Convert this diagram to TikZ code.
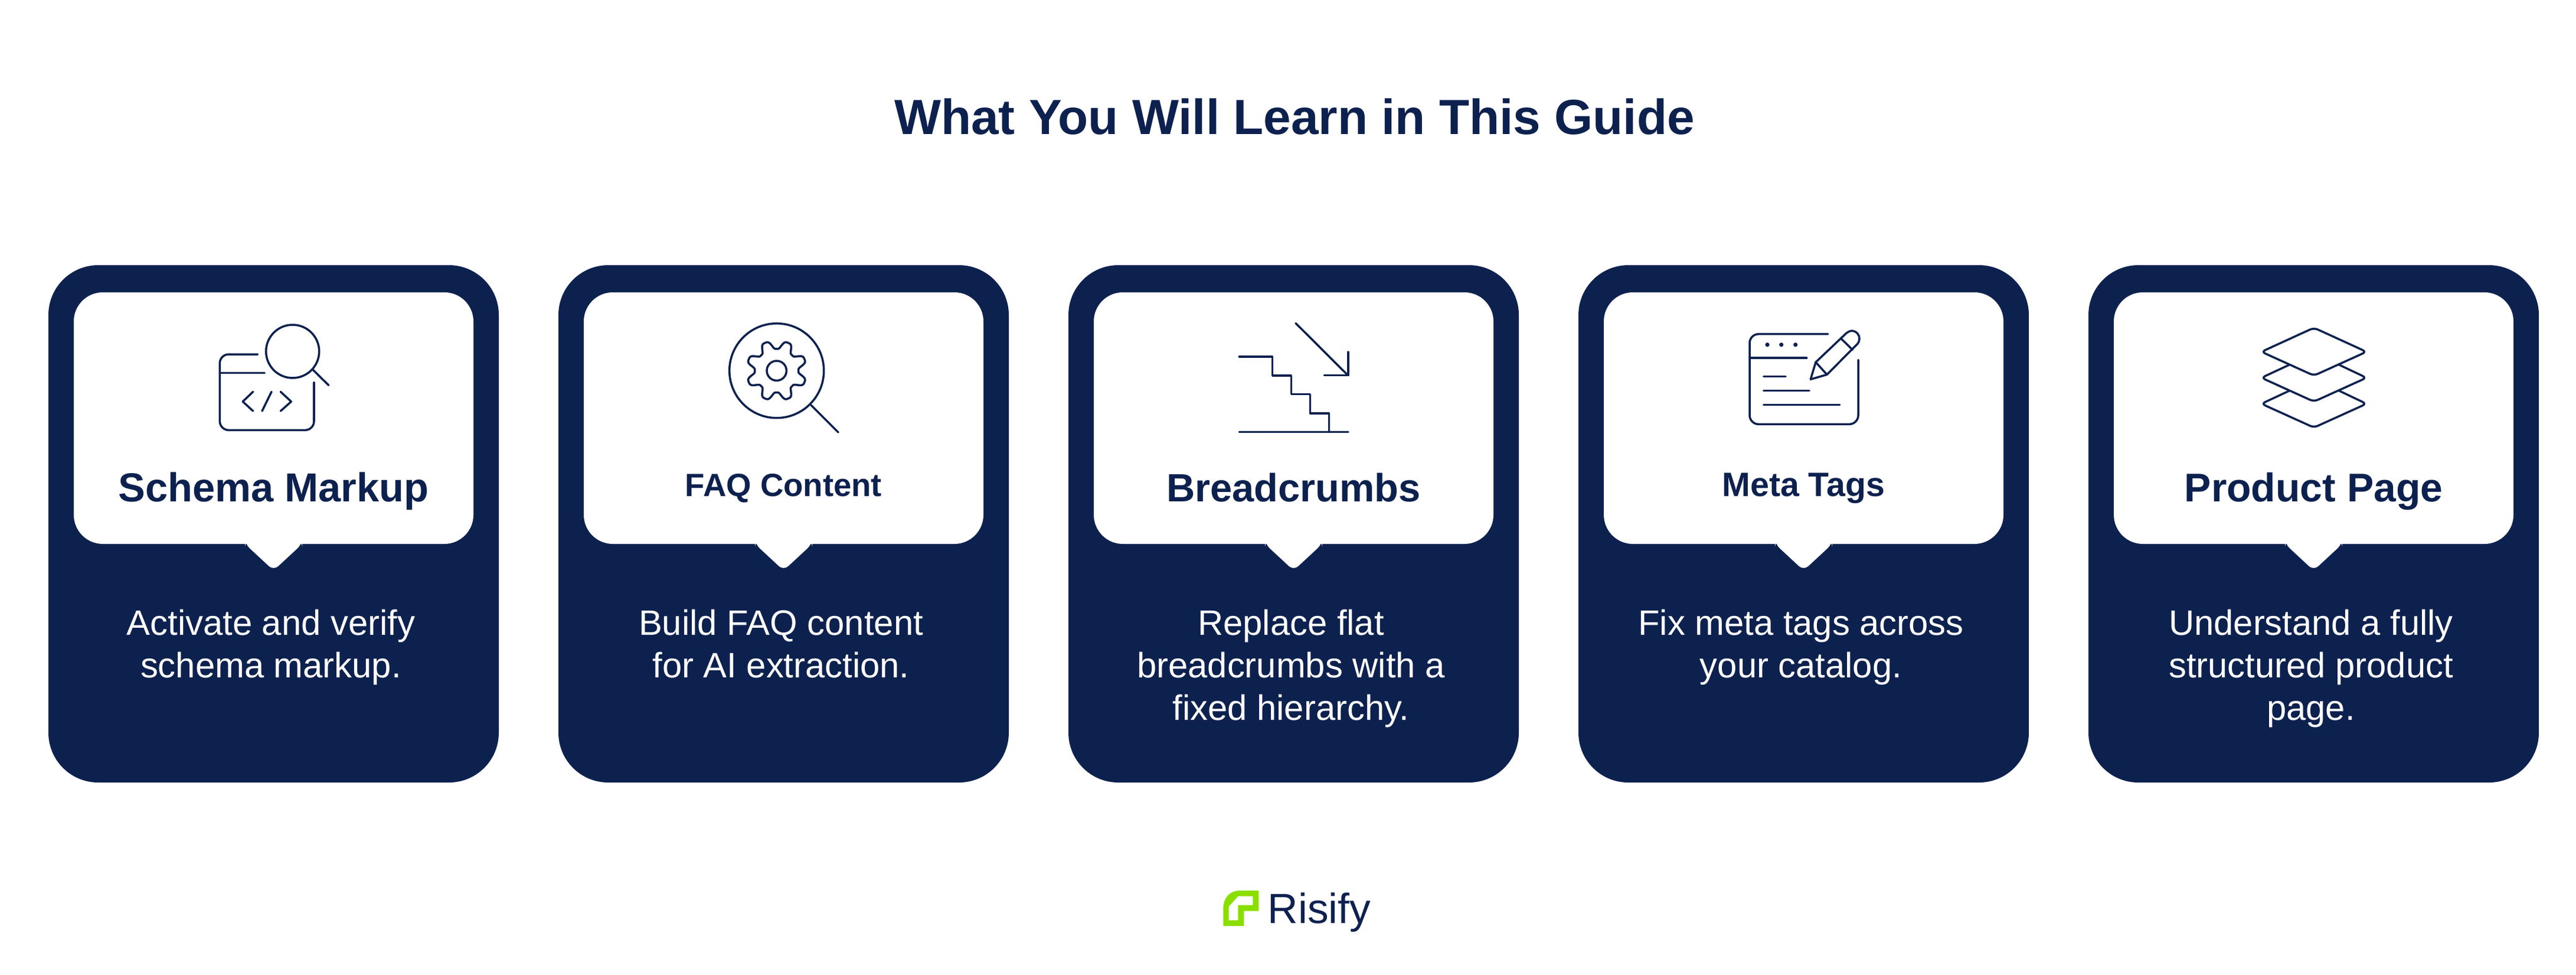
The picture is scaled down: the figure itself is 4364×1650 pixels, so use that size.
\documentclass[tikz,border=0pt]{standalone}
\usepackage{fontspec}
\setmainfont{Liberation Sans}
\usepackage{xcolor}
\definecolor{navy}{HTML}{0D214F}
\definecolor{leaf}{HTML}{8ADF00}
\tikzset{
  card/.style={fill=navy,rounded corners=24pt},
  bubble/.style={fill=white,rounded corners=14pt},
  tail/.style={fill=white,rounded corners=3pt},
  headtext/.style={color=navy,anchor=base,inner sep=0pt},
  infotext/.style={color=white,anchor=north,align=center,inner sep=0pt,font=\fontsize{17}{20.5}\selectfont},
  iconline/.style={color=navy,line width=1pt,line cap=round,line join=round},
}
\begin{document}
\begin{tikzpicture}[x=0.01cm,y=-0.01cm]
\fill[white] (0,0) rectangle (4364,1650);
\node[headtext,font=\fontsize{23.8}{28}\selectfont\bfseries] (title) at (2193,227) {What You Will Learn in This Guide};
%%%%% Cards %%%%%
\foreach \k/\headname/\headsize/\headbase/\info in {
  0/Schema Markup/19.5/849/{Activate and verify\\schema markup.},
  1/FAQ Content/15.5/840/{Build FAQ content\\for AI extraction.},
  2/Breadcrumbs/19/849/{Replace flat\\breadcrumbs with a\\fixed hierarchy.},
  3/Meta Tags/16.3/840/{Fix meta tags across\\your catalog.},
  4/Product Page/19.3/849/{Understand a fully\\structured product\\page.}}{
\begin{scope}[shift={({864*\k},0)}]
\fill[card] (82,449) rectangle (845,1325);
\fill[bubble] (125,495) rectangle (802,921);
\fill[tail] (415,915) -- (415,921) -- (463.5,966) -- (512,921) -- (512,915) -- cycle;
\node[headtext,font=\fontsize{\headsize}{24}\selectfont\bfseries] (head\k) at (463.5,\headbase) {\headname};
\node[infotext] (info\k) at (459,1031) {\info};
\end{scope}
}
%%%%% Icon 1: code window and lens %%%%%
\draw[iconline] (495.7,595) circle[radius=45];
\draw[iconline] (530,626)--(556.7,652.3);
\draw[iconline,rounded corners=4.3pt] (436.7,600)--(372.3,600)--(372.3,728.3)--(532,728.3)--(532,647.3);
\draw[iconline] (372.3,631.7)--(448.3,631.7);
\draw[iconline] (428.7,663.3)--(411.3,680)--(428.7,696);
\draw[iconline] (460,663.3)--(444,696);
\draw[iconline] (475.3,663.3)--(493.3,680)--(475.3,696);
%%%%% Icon 2: gear and lens %%%%%
\draw[iconline] (1315.7,627.7) circle[radius=80];
\draw[iconline] (1374,686)--(1420,732);
\draw[iconline] (1315.7,627.7) circle[radius=16.7];
\draw[iconline,shift={(1315.7,627.7)}] plot[domain=0:360,samples=145] (\x:{44-8*cos(8*\x)+cos(24*\x)}) -- cycle;
%%%%% Icon 3: stairs and arrow %%%%%
\draw[iconline] (2195,547.3)--(2283,635);
\draw[iconline] (2284,596)--(2284,635.7)--(2243.3,635.7);
\draw[iconline] (2099.3,604)--(2155.7,604)--(2155.7,636)--(2187.3,636)--(2187.3,667.7)--(2219.3,667.7)--(2219.3,700)--(2251.7,700)--(2251.7,731.7);
\draw[iconline] (2099.3,731.7)--(2284,731.7);
%%%%% Icon 4: page and pencil %%%%%
\draw[iconline,rounded corners=4.3pt] (3096.7,565.7)--(2964,565.7)--(2964,718.3)--(3148,718.3)--(3148,609.3);
\draw[iconline] (2964,606)--(3060.7,606);
\foreach \x in {2994,3017.7,3041.7}{
\fill[navy] (\x,583.7) circle[radius=3.6];
}
\draw[iconline] (2987.7,637.7)--(3025,637.7);
\draw[iconline] (2987.7,661.7)--(3065,661.7);
\draw[iconline] (2987.7,685.7)--(3116.7,685.7);
\draw[iconline] (3067.3,642.3)--(3076,613.3)--(3128,564) .. controls (3136,558) and (3142,559.5) .. (3147,565) .. controls (3151,570) and (3151,577) .. (3147,582)--(3095,634.3)--cycle;
\draw[iconline] (3076,613.3)--(3095,634.3);
\draw[iconline] (3118.3,572.7)--(3138.3,592.3);
%%%%% Icon 5: layers %%%%%
\draw[iconline,rounded corners=2pt] (3920,555)--(3831,595.7)--(3920,636)--(4009,595.7)--cycle;
\foreach \d in {0,44}{
\draw[iconline,rounded corners=2pt] (3878.3,617.7+\d)--(3831,639.7+\d)--(3920,680+\d)--(4009,639.7+\d)--(3962.7,617.7+\d);
}
%%%%% Logo %%%%%
\fill[leaf,even odd rule] (2072.3,1568)--(2072.3,1538.3) .. controls (2072.3,1520) and (2084,1508) .. (2100,1508)--(2132.3,1508)--(2132.3,1542.7)--(2107.3,1542.7)--(2107.3,1568)--cycle
  (2081.7,1558.3)--(2081.7,1535)--(2097.3,1517.7)--(2122.3,1517.7)--(2122.3,1532.7)--(2097.3,1532.7)--(2097.3,1558.3)--cycle;
\node[color=navy,anchor=base west,inner sep=0pt,font=\fontsize{20.3}{24}\selectfont] (brand) at (2147,1563) {Risify};
\end{tikzpicture}
\end{document}
